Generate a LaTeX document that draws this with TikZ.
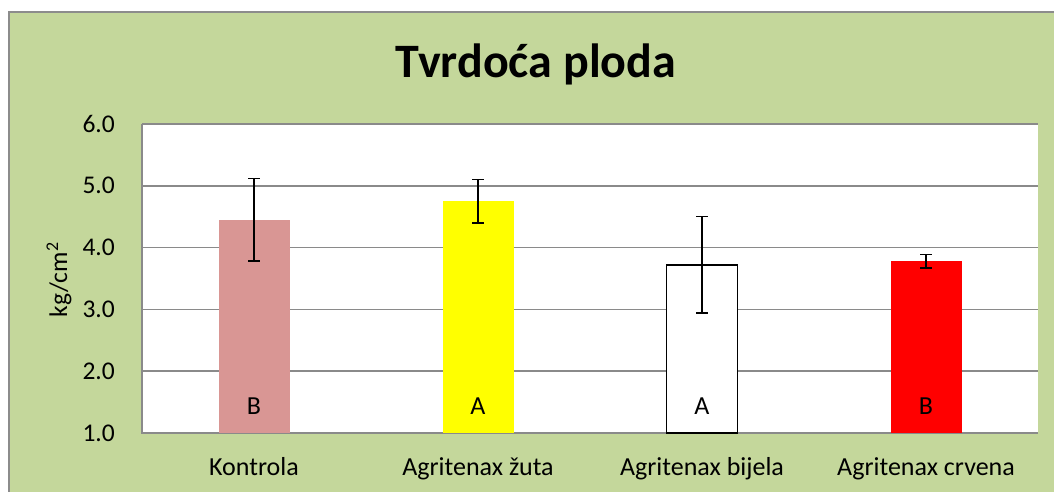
\documentclass[tikz,border=0pt]{standalone}
\usepackage{fontspec}
\setmainfont{Carlito}
\usetikzlibrary{positioning}
\definecolor{chartgreen}{HTML}{C4D79B}
\definecolor{framegray}{HTML}{8C8C8C}
\definecolor{gridgray}{HTML}{8A8A8A}
\definecolor{pinkbar}{HTML}{D99694}
\definecolor{yellowbar}{HTML}{FFFF00}
\definecolor{redbar}{HTML}{FF0000}

\begin{document}
\begin{tikzpicture}[x=1pt,y=1pt,
  tick label/.style={anchor=east,inner sep=0pt,font=\fontsize{25.5}{30}\selectfont},
  bar label/.style={anchor=base,inner sep=0pt,font=\fontsize{26}{30}\selectfont},
  cat label/.style={anchor=base,inner sep=0pt,font=\fontsize{26}{30}\selectfont},
  err bar/.style={black,line width=1.5pt}]
  % chart area
  \useasboundingbox (0,0) rectangle (1054,492);
  \fill[white] (0,0) rectangle (1054,492);
  \fill[chartgreen] (9,0) rectangle (1054,480);
  \draw[framegray,line width=1.5pt] (9,0) -- (9,480) -- (1054,480);
  \node (title) [anchor=base,inner sep=0pt,font=\bfseries\fontsize{48}{56}\selectfont] at (536,414) {Tvrdoća ploda};
  % plot area
  \begin{scope}[shift={(142,-2.8)},y=61.8pt]
    \fill[white] (0,1) rectangle (896,6);
    \foreach \v in {2,...,6}
      \draw[gridgray,line width=1.5pt] (0,\v) -- (896,\v);
    \draw[gridgray,line width=1.5pt] (0,6) -- (0,1) -- (896,1);
    \foreach \v in {1,...,6}
      \node (tick\v) [tick label] at (-27,\v) {\v.0};
    \node (ylabel) [rotate=90,inner sep=0pt,font=\fontsize{25.5}{30}\selectfont] at (-83,3.48) {kg/cm\textsuperscript{2}};
    % bars
    \foreach \i/\val/\dev/\fillc/\linec/\grp/\name [evaluate=\i as \cx using 112+224*\i] in
      {0/4.45/0.67/pinkbar/none/B/Kontrola,
       1/4.75/0.35/yellowbar/none/A/Agritenax žuta,
       2/3.72/0.78/white/black/A/Agritenax bijela,
       3/3.78/0.11/redbar/none/B/Agritenax crvena}
    {
      \filldraw[fill=\fillc,draw=\linec,line width=1.3pt] ({\cx-35.5},1) rectangle ({\cx+35.5},\val);
      \draw[err bar] ({\cx},{\val-\dev}) -- ({\cx},{\val+\dev});
      \draw[err bar] ({\cx-6},{\val-\dev}) -- ({\cx+6},{\val-\dev});
      \draw[err bar] ({\cx-6},{\val+\dev}) -- ({\cx+6},{\val+\dev});
      \node (grp\i) [bar label] at ({\cx},1.307) {\grp};
      \node (cat\i) [cat label] at ({\cx},0.309) {\name};
    }
  \end{scope}
\end{tikzpicture}
\end{document}
